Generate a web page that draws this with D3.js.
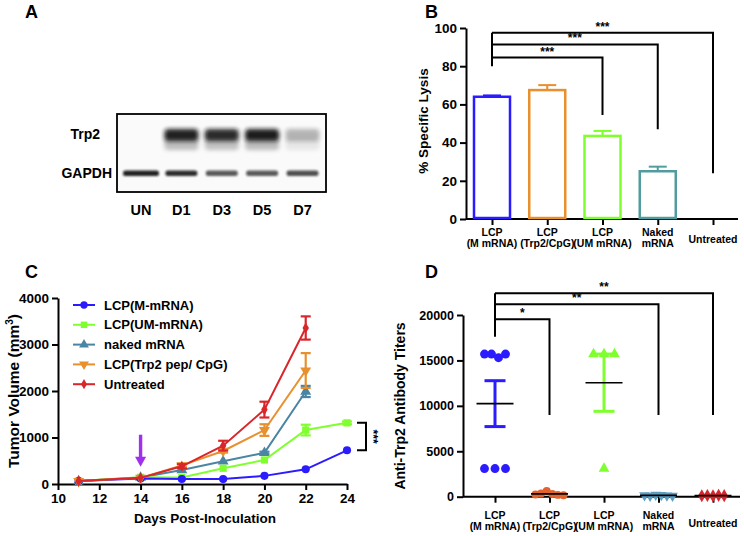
<!DOCTYPE html>
<html><head><meta charset="utf-8">
<script src="https://cdn.jsdelivr.net/npm/d3@7"></script>
<style>
body{margin:0;background:#fff}
text{font-family:"Liberation Sans",Arial,sans-serif;font-weight:bold;fill:#000}
</style>
</head><body>
<svg id="chart" width="744" height="536"></svg>
<script>
// ---------------- DATA ----------------
// Panel A (western blot)
const blotLanes = ["UN", "D1", "D3", "D5", "D7"];
const trp2Intensity = [0, 0.95, 0.9, 0.97, 0.3];
const gapdhIntensity = [0.95, 0.9, 0.7, 0.7, 0.75];

// Panel B (% specific lysis)
const lysisCats = [["LCP", "(M mRNA)"], ["LCP", "(Trp2/CpG)"], ["LCP", "(UM mRNA)"], ["Naked", "mRNA"], ["Untreated"]];
const lysisMean = [64, 67.5, 43.5, 25, 0];
const lysisErr = [0.7, 2.6, 2.6, 2.4, 0];
const lysisColors = ["#2b1bff", "#e8902e", "#80ff2f", "#519c9e", "#000"];
const lysisTicks = [0, 20, 40, 60, 80, 100];
const lysisSig = [
  { to: 2, level: 84.5, end: 54.5, label: "***" },
  { to: 3, level: 91.4, end: 47, label: "***" },
  { to: 4, level: 97.5, end: 24, label: "***" }
];
const lysisSigStart = 80;

// Panel C (tumor growth)
const days = [11, 14, 16, 18, 20, 22, 24];
const dayTicks = [10, 12, 14, 16, 18, 20, 22, 24];
const volTicks = [0, 1000, 2000, 3000, 4000];
const growthNames = ["LCP(M-mRNA)", "LCP(UM-mRNA)", "naked mRNA", "LCP(Trp2 pep/ CpG)", "Untreated"];
const growthColors = ["#2b1bff", "#80ff2f", "#4a86a4", "#e8902e", "#d9262a"];
const growthSymbols = ["circle", "square", "triangle", "triangleDown", "diamond"];
const volMMrna   = [62, 118, 108, 105, 175, 316, 725];
const volUMmrna  = [62, 145, 140, 338, 517, 1160, 1315];
const volNaked   = [62, 140, 300, 490, 670, 1990];
const volTrp2    = [62, 132, 400, 710, 1160, 2440];
const volUntr    = [62, 132, 380, 825, 1600, 3355];
const errMMrna   = [0, 10, 10, 10, 12, 15, 20];
const errUMmrna  = [0, 12, 12, 15, 20, 115, 30];
const errNaked   = [0, 12, 15, 20, 25, 120];
const errTrp2    = [0, 12, 35, 35, 125, 375];
const errUntr    = [0, 12, 45, 105, 170, 250];
const arrowDay = 14, arrowFrom = 1060, arrowTo = 370;

// Panel D (antibody titers)
const titerCats = [["LCP", "(M mRNA)"], ["LCP", "(Trp2/CpG)"], ["LCP", "(UM mRNA)"], ["Naked", "mRNA"], ["Untreated"]];
const titerMmrna = [15700, 15700, 15300, 15700, 3100, 3100, 3100];
const titerTrp2  = [250, 350, 620, 300, 200, 150];
const titerUMmrna = [15700, 15700, 15700, 3100];
const titerNaked = [150, 100, 200, 180, 120, 100];
const titerUntr  = [100, 130, 90, 150, 110];
const titerColors = ["#2b1bff", "#e2632c", "#80ff2f", "#5b9ec2", "#d9262a"];
const titerSymbols = ["circle", "circle", "triangle", "triangleDown", "diamond"];
const titerTicks = [0, 5000, 10000, 15000, 20000];
const titerSig = [
  { to: 1, level: 19530, end: 9000, label: "*" },
  { to: 3, level: 21180, end: 9000, label: "**" },
  { to: 4, level: 22390, end: 9000, label: "**" }
];
const titerSigStart = 17600;

// ---------------- DRAW ----------------
const svg = d3.select("#chart");
const F = "'Liberation Sans', Arial, sans-serif";
const fmt = d3.format("d");

function styleAxis(g, fs) {
  g.selectAll("path.domain").attr("stroke", "#000").attr("stroke-width", 2);
  g.selectAll(".tick line").attr("stroke", "#000").attr("stroke-width", 2);
  g.selectAll(".tick text").attr("font-family", F).attr("font-weight", "bold").attr("font-size", fs).attr("fill", "#000");
}
function symbolOf(name, size) {
  const m = { circle: d3.symbolCircle, square: d3.symbolSquare, triangle: d3.symbolTriangle, diamond: d3.symbolDiamond, triangleDown: d3.symbolTriangle };
  return d3.symbol().type(m[name]).size(size)();
}
function panelLetter(t, x, y) {
  svg.append("text").attr("x", x).attr("y", y).attr("font-size", 18).text(t);
}

// ===== Panel A =====
panelLetter("A", 25, 18);
const defs = svg.append("defs");
defs.append("filter").attr("id", "blurT").attr("x", "-30%").attr("y", "-60%").attr("width", "160%").attr("height", "220%")
  .append("feGaussianBlur").attr("stdDeviation", 2.2);
defs.append("filter").attr("id", "blurG").attr("x", "-30%").attr("y", "-80%").attr("width", "160%").attr("height", "260%")
  .append("feGaussianBlur").attr("stdDeviation", 1.2);
const laneX = d3.scalePoint().domain(blotLanes).range([141, 302.5]);
const blot = svg.append("g");
blot.append("rect").attr("x", 117).attr("y", 114).attr("width", 209).attr("height", 78)
  .attr("fill", "#fafafa").attr("stroke", "none");
const bw = 34;
blotLanes.forEach((l, i) => {
  const cx = laneX(l);
  if (trp2Intensity[i] > 0) {
    blot.append("rect").attr("x", cx - bw / 2).attr("y", 138).attr("width", bw).attr("height", 12)
      .attr("rx", 4).attr("fill", "#444").attr("opacity", trp2Intensity[i] * 0.35).attr("filter", "url(#blurT)");
    blot.append("rect").attr("x", cx - bw / 2).attr("y", 129).attr("width", bw).attr("height", 12)
      .attr("rx", 4).attr("fill", "#141414").attr("opacity", trp2Intensity[i]).attr("filter", "url(#blurT)");
  }
  const gw = i === 0 ? 36 : 32;
  blot.append("rect").attr("x", cx - gw / 2).attr("y", 170.5).attr("width", gw).attr("height", 5.5)
    .attr("rx", 2.5).attr("fill", "#141414").attr("opacity", gapdhIntensity[i]).attr("filter", "url(#blurG)");
  svg.append("text").attr("x", cx).attr("y", 215).attr("text-anchor", "middle").attr("font-size", 14.5).text(l);
});
blot.append("rect").attr("x", 117).attr("y", 114).attr("width", 209).attr("height", 78)
  .attr("fill", "none").attr("stroke", "#000").attr("stroke-width", 1.8);
svg.append("text").attr("x", 100).attr("y", 139).attr("text-anchor", "end").attr("font-size", 14).text("Trp2");
svg.append("text").attr("x", 112).attr("y", 178).attr("text-anchor", "end").attr("font-size", 14).text("GAPDH");

// ===== Panel B =====
panelLetter("B", 425, 18);
const yB = d3.scaleLinear().domain([0, 100]).range([219, 28]);
const xB = d3.scalePoint().domain(d3.range(lysisCats.length)).range([492, 713]);
const gyB = svg.append("g").attr("transform", "translate(466,0)")
  .call(d3.axisLeft(yB).tickValues(lysisTicks).tickFormat(fmt).tickSize(6).tickSizeOuter(0).tickPadding(3));
styleAxis(gyB, 13.5);
svg.append("line").attr("x1", 466).attr("x2", 738).attr("y1", 219).attr("y2", 219).attr("stroke", "#000").attr("stroke-width", 2);
const gxB = svg.append("g").attr("transform", "translate(0,219)")
  .call(d3.axisBottom(xB).tickSize(6).tickFormat(""));
gxB.select("path.domain").remove();
styleAxis(gxB, 10);
const barW = 36;
lysisMean.forEach((v, i) => {
  if (v <= 0) return;
  const c = lysisColors[i], x = xB(i);
  svg.append("line").attr("x1", x).attr("x2", x).attr("y1", yB(v)).attr("y2", yB(v + lysisErr[i])).attr("stroke", c).attr("stroke-width", 2);
  svg.append("line").attr("x1", x - 9).attr("x2", x + 9).attr("y1", yB(v + lysisErr[i])).attr("y2", yB(v + lysisErr[i])).attr("stroke", c).attr("stroke-width", 2);
  svg.append("rect").attr("x", x - barW / 2).attr("y", yB(v)).attr("width", barW).attr("height", yB(0) - yB(v) - 1)
    .attr("fill", "#fff").attr("stroke", c).attr("stroke-width", 2.5);
});
function catLabels(scale, cats, y1, y2, ySingle, fs) {
  cats.forEach((lines, i) => {
    if (lines.length === 1) {
      svg.append("text").attr("x", scale(i)).attr("y", ySingle).attr("text-anchor", "middle").attr("font-size", fs).text(lines[0]);
    } else {
      svg.append("text").attr("x", scale(i)).attr("y", y1).attr("text-anchor", "middle").attr("font-size", fs).text(lines[0]);
      svg.append("text").attr("x", scale(i)).attr("y", y2).attr("text-anchor", "middle").attr("font-size", fs).text(lines[1]);
    }
  });
}
catLabels(xB, lysisCats, 236, 247, 243, 10.5);
svg.append("text").attr("transform", "translate(428,121) rotate(-90)").attr("text-anchor", "middle").attr("font-size", 13.5).text("% Specific Lysis");
function sigBrackets(xs, ys, sigs, start, x0) {
  const top = d3.max(sigs, s => s.level);
  svg.append("line").attr("x1", x0).attr("x2", x0).attr("y1", ys(start)).attr("y2", ys(top)).attr("stroke", "#000").attr("stroke-width", 2);
  sigs.forEach(s => {
    const x1 = xs(s.to);
    svg.append("path").attr("d", `M${x0},${ys(s.level)}H${x1}V${ys(s.end)}`).attr("fill", "none").attr("stroke", "#000").attr("stroke-width", 2);
    svg.append("text").attr("x", (x0 + x1) / 2).attr("y", ys(s.level) - 2).attr("text-anchor", "middle").attr("font-size", 12).text(s.label);
  });
}
sigBrackets(xB, yB, lysisSig, lysisSigStart, xB(0));

// ===== Panel C =====
panelLetter("C", 25, 278);
const xC = d3.scaleLinear().domain([10, 24]).range([58, 347]);
const yC = d3.scaleLinear().domain([0, 4000]).range([484, 298]);
const gyC = svg.append("g").attr("transform", "translate(58,0)")
  .call(d3.axisLeft(yC).tickValues(volTicks).tickFormat(fmt).tickSize(6).tickSizeOuter(0).tickPadding(3));
styleAxis(gyC, 13.5);
const gxC = svg.append("g").attr("transform", "translate(0,484)")
  .call(d3.axisBottom(xC).tickValues(dayTicks).tickFormat(fmt).tickSize(6).tickSizeOuter(0).tickPadding(3));
styleAxis(gxC, 13.5);
svg.append("text").attr("x", 205).attr("y", 523).attr("text-anchor", "middle").attr("font-size", 13.5).text("Days Post-Inoculation");
const yt = svg.append("text").attr("transform", "translate(18.5,391) rotate(-90)").attr("text-anchor", "middle").attr("font-size", 15.5);
yt.append("tspan").text("Tumor Volume (mm");
yt.append("tspan").attr("font-size", 10).attr("dy", -6).text("3");
yt.append("tspan").attr("dy", 6).text(")");

const growthVals = [volMMrna, volUMmrna, volNaked, volTrp2, volUntr];
const growthErrs = [errMMrna, errUMmrna, errNaked, errTrp2, errUntr];
const lineC = d3.line().x(d => xC(d.x)).y(d => yC(d.y));
function drawMarker(g, name, x, y, color, size) {
  g.append("path").attr("d", symbolOf(name, size))
    .attr("transform", `translate(${x},${y})` + (name === "triangleDown" ? " rotate(180)" : ""))
    .attr("fill", color);
}
// arrow
(function () {
  const x = xC(arrowDay), y0 = yC(arrowFrom), y1 = yC(arrowTo);
  const col = "#9f30ee";
  svg.append("line").attr("x1", x).attr("x2", x).attr("y1", y0).attr("y2", y1 - 9).attr("stroke", col).attr("stroke-width", 3.4);
  svg.append("path").attr("d", `M${x - 5.5},${y1 - 10}L${x + 5.5},${y1 - 10}L${x},${y1}Z`).attr("fill", col);
})();
[2, 1, 0, 3, 4].forEach(si => {
  const vals = growthVals[si], errs = growthErrs[si], col = growthColors[si];
  const pts = vals.map((v, i) => ({ x: days[i], y: v, e: errs[i] }));
  const g = svg.append("g");
  g.append("path").attr("d", lineC(pts)).attr("fill", "none").attr("stroke", col).attr("stroke-width", 2);
  pts.forEach(p => {
    if (p.e > 20) {
      const x = xC(p.x);
      g.append("line").attr("x1", x).attr("x2", x).attr("y1", yC(p.y - p.e)).attr("y2", yC(p.y + p.e)).attr("stroke", col).attr("stroke-width", 2.2);
      [p.y - p.e, p.y + p.e].forEach(v => g.append("line").attr("x1", x - 5).attr("x2", x + 5).attr("y1", yC(v)).attr("y2", yC(v)).attr("stroke", col).attr("stroke-width", 2.2));
    }
    drawMarker(g, growthSymbols[si], xC(p.x), yC(p.y), col, si === 4 ? 36 : 52);
  });
});
// legend
growthNames.forEach((n, i) => {
  const y = 305 + i * 19.8;
  svg.append("line").attr("x1", 73).attr("x2", 95).attr("y1", y).attr("y2", y).attr("stroke", growthColors[i]).attr("stroke-width", 2);
  drawMarker(svg, growthSymbols[i], 84, y, growthColors[i], i === 4 ? 30 : 42);
  svg.append("text").attr("x", 104).attr("y", y + 4.6).attr("font-size", 13).text(n);
});
// significance bracket at day 24
(function () {
  const x = xC(24) + 19, yTop = yC(volUMmrna[6]), yBot = yC(volMMrna[6]);
  svg.append("path").attr("d", `M${x - 9},${yTop}H${x}V${yBot}H${x - 9}`).attr("fill", "none").attr("stroke", "#000").attr("stroke-width", 2);
  svg.append("text").attr("transform", `translate(${x + 3},${(yTop + yBot) / 2}) rotate(90)`).attr("text-anchor", "middle").attr("font-size", 12).attr("fill", "#333").text("***");
})();

// ===== Panel D =====
panelLetter("D", 425, 278);
const yD = d3.scaleLinear().domain([0, 20000]).range([496.7, 315]);
const xD = d3.scalePoint().domain(d3.range(titerCats.length)).range([495, 713]);
const gyD = svg.append("g").attr("transform", "translate(463,0)")
  .call(d3.axisLeft(yD).tickValues(titerTicks).tickFormat(fmt).tickSize(6).tickSizeOuter(0).tickPadding(3));
styleAxis(gyD, 12.5);
svg.append("line").attr("x1", 463).attr("x2", 740).attr("y1", 496.7).attr("y2", 496.7).attr("stroke", "#000").attr("stroke-width", 2);
const gxD = svg.append("g").attr("transform", "translate(0,496.7)")
  .call(d3.axisBottom(xD).tickSize(6).tickFormat(""));
gxD.select("path.domain").remove();
styleAxis(gxD, 10);
catLabels(xD, titerCats, 519, 530, 527, 10.5);
svg.append("text").attr("transform", "translate(405,406) rotate(-90)").attr("text-anchor", "middle").attr("font-size", 14).text("Anti-Trp2 Antibody Titers");
sigBrackets(xD, yD, titerSig, titerSigStart, xD(0));

const titerVals = [titerMmrna, titerTrp2, titerUMmrna, titerNaked, titerUntr];
titerVals.forEach((vals, si) => {
  const col = titerColors[si], cx = xD(si);
  const sorted = vals.map((v, i) => ({ v, i })).sort((a, b) => a.v - b.v);
  const groups = [];
  sorted.forEach(p => {
    const g = groups[groups.length - 1];
    if (g && Math.abs(p.v - g[g.length - 1].v) < 1500) g.push(p); else groups.push([p]);
  });
  const g = svg.append("g");
  groups.forEach(gr => {
    gr.sort((a, b) => a.i - b.i);
    const n = gr.length;
    const sp = n <= 1 ? 0 : (n <= 4 ? 21 / (n - 1) : 5.6);
    gr.forEach((p, k) => {
      const x = cx + (k - (n - 1) / 2) * sp;
      drawMarker(g, titerSymbols[si], x, yD(p.v), col, si === 0 ? 62 : 50);
    });
  });
  const m = d3.mean(vals), sem = d3.deviation(vals) / Math.sqrt(vals.length);
  if (sem > 500) {
    g.append("line").attr("x1", cx).attr("x2", cx).attr("y1", yD(m - sem)).attr("y2", yD(m + sem)).attr("stroke", col).attr("stroke-width", 3);
    [m - sem, m + sem].forEach(v => g.append("line").attr("x1", cx - 10.5).attr("x2", cx + 10.5).attr("y1", yD(v)).attr("y2", yD(v)).attr("stroke", col).attr("stroke-width", 3));
  }
  g.append("line").attr("x1", cx - 18.5).attr("x2", cx + 18.5).attr("y1", yD(m)).attr("y2", yD(m)).attr("stroke", "#000").attr("stroke-width", 1.6);
});
</script>
</body></html>
